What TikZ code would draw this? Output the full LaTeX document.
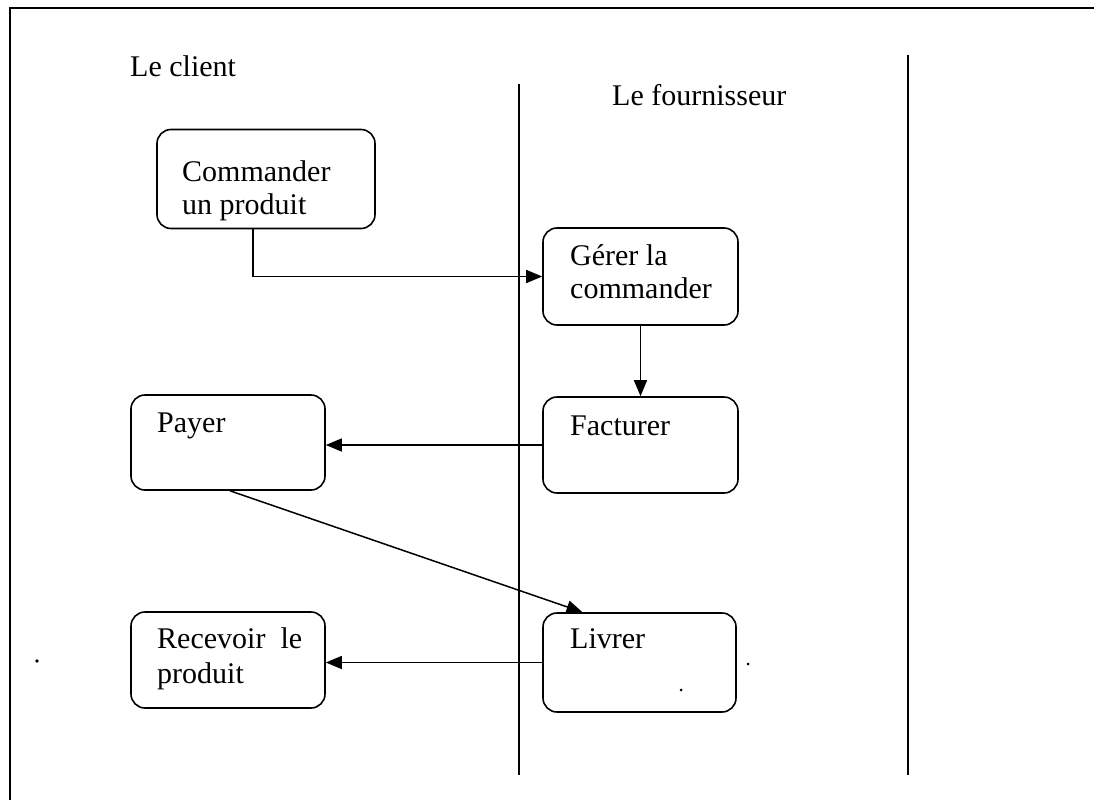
\documentclass[tikz,border=0pt]{standalone}
\usepackage{fontspec}
\setmainfont{Liberation Serif}
\usetikzlibrary{arrows.meta}
\begin{document}
\begin{tikzpicture}[x=1pt,y=-1pt,
  every node/.style={font=\fontsize{30}{34}\selectfont, inner sep=0pt},
  box/.style={draw, line width=1.6pt, rounded corners=14pt},
  lbl/.style={anchor=base west, align=left},
  flow/.style={line width=1.5pt, -{Triangle[length=16pt,width=13pt]}},
  lane/.style={line width=1.4pt},
  speck/.style={fill=black}]
\useasboundingbox (0,0) rectangle (1094,800);
% frame and swimlanes
\draw[lane] (10,800) -- (10,8) -- (1094,8);
\draw[lane] (519,84) -- (519,775);
\draw[lane] (908,55) -- (908,775);
% headers
\node[lbl] (hclient) at (130,77) {Le client};
\node[lbl] (hfour) at (612,105) {Le fournisseur};
% boxes
\node[box, minimum width=218pt, minimum height=99pt] (cmd) at (266,179) {};
\node[box, minimum width=195pt, minimum height=97pt] (ger) at (640.5,276.5) {};
\node[box, minimum width=195pt, minimum height=96pt] (fac) at (640.5,445) {};
\node[box, minimum width=194pt, minimum height=95pt] (pay) at (228,442.5) {};
\node[box, minimum width=194pt, minimum height=96pt] (rec) at (228,660) {};
\node[box, minimum width=193pt, minimum height=99pt] (liv) at (639.5,662.5) {};
% texts
\node[lbl] (tcmd) at (182,181) {Commander};
\node[lbl] (tcmd2) at (182,214) {un produit};
\node[lbl] (tger) at (570,265) {Gérer la};
\node[lbl] (tger2) at (570,298) {commander};
\node[lbl] (tfac) at (570,435) {Facturer};
\node[lbl] (tpay) at (157,432) {Payer};
\node[lbl] (trec) at (157,648) {Recevoir\ \ le};
\node[lbl] (trec2) at (157,683) {produit};
\node[lbl] (tliv) at (570,648) {Livrer};
% connectors
\draw[flow] ([xshift=-13pt]cmd.south) |- (ger.west);
\draw[flow] (ger.south) -- (fac.north);
\draw[flow] (fac.west) -- (fac.west -| pay.east);
\draw[flow] ([xshift=2pt]pay.south) -- ([xshift=-57pt]liv.north);
\draw[flow] (liv.west) -- (liv.west -| rec.east);
% scan specks
\fill[speck] (37,661) circle (1.8pt);
\fill[speck] (748,664) circle (1.5pt);
\fill[speck] (681,690) circle (1.5pt);
\end{tikzpicture}
\end{document}
